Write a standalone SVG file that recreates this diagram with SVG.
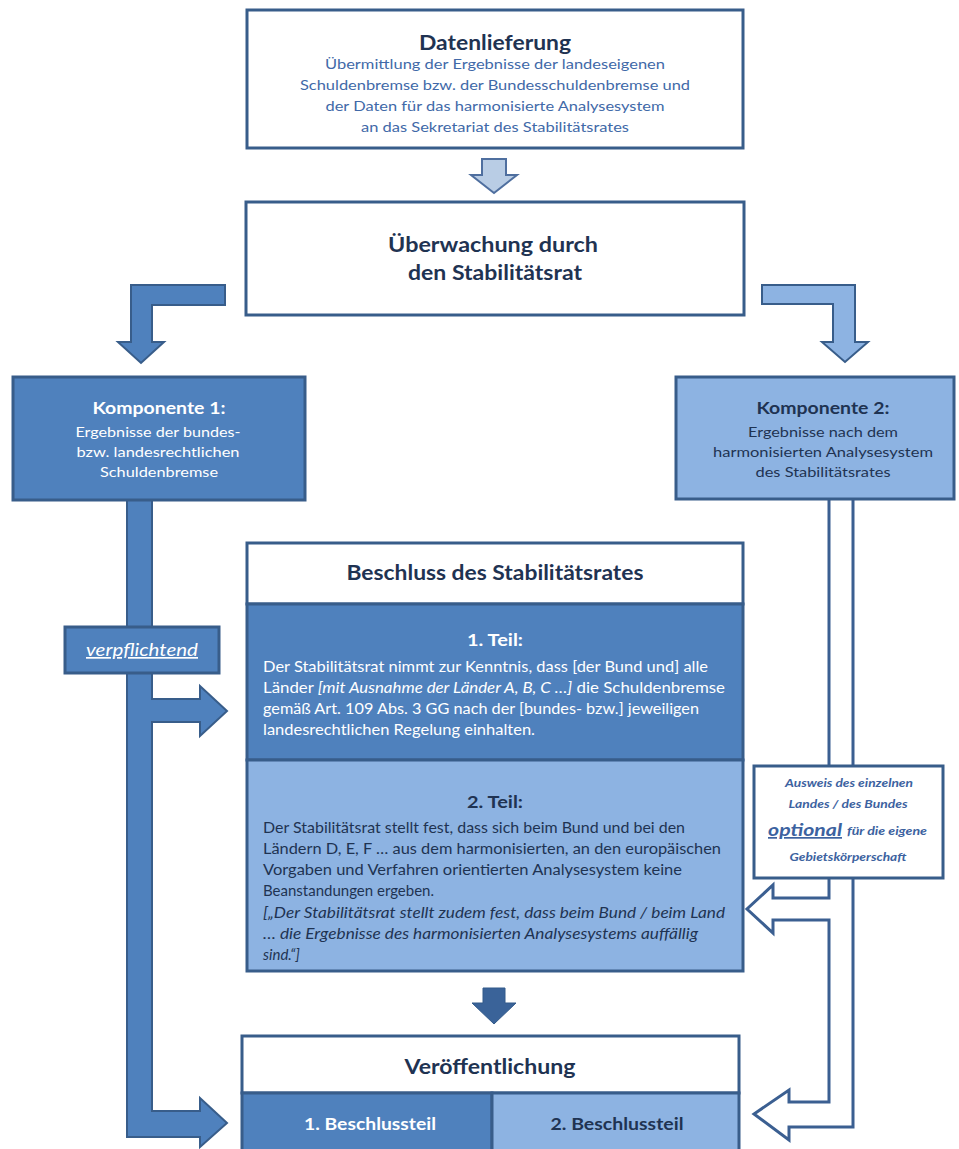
<svg xmlns="http://www.w3.org/2000/svg" width="959" height="1149" viewBox="0 0 959 1149">
<style>
text{font-family:Lato,"Open Sans","Liberation Sans",sans-serif}
.box{fill:#ffffff;stroke:#385d8a;stroke-width:3}
.dk{fill:#4f81bd;stroke:#385d8a;stroke-width:3}
.lt{fill:#8db3e2;stroke:#385d8a;stroke-width:3}
.ttl{font-size:20px;font-weight:bold;fill:#1f3352;text-anchor:middle}
.sub{font-size:14px;fill:#4169a8;text-anchor:middle}
.kt{font-size:17px;font-weight:bold;text-anchor:middle}
.kl{font-size:14px;text-anchor:middle}
.body{font-size:15px}
.w{fill:#ffffff}
.d{fill:#1f3352}
.aw{font-size:10.5px;font-weight:bold;font-style:italic;fill:#3c62a0;text-anchor:middle}
</style>
<g id="connectors">
<path d="M482,159 L506,159 L506,175 L517,175 L494,193 L471,175 L482,175 Z" fill="#b9cde5" stroke="#4f6f9f" stroke-width="2"/>
<path d="M225,285 L131,285 L131,342 L118,342 L141,363 L164,342 L152,342 L152,305 L225,305 Z" fill="#4f81bd" stroke="#385d8a" stroke-width="2"/>
<path d="M762,285 L855,285 L855,342 L868,342 L845,362 L822,342 L833,342 L833,304 L762,304 Z" fill="#8db3e2" stroke="#385d8a" stroke-width="2"/>
<path d="M127,500 L127,1137 L200,1137 L200,1147 L227,1123 L200,1098 L200,1111 L152,1111 L152,722 L200,722 L200,736 L227,711 L200,686 L200,699 L152,699 L152,500 Z" fill="#4f81bd" stroke="#385d8a" stroke-width="2"/>
<path d="M853,500 L853,1127 L789,1127 L789,1140 L754,1114 L789,1090 L789,1102 L829,1102 L829,920 L773,920 L773,933 L747,909 L773,885 L773,898 L829,898 L829,500" fill="#ffffff" stroke="#3b5f91" stroke-width="3"/>
<path d="M483,988 L505,988 L505,1003 L516,1003 L494,1024 L472,1003 L483,1003 Z" fill="#3a6399" stroke="#335a8a" stroke-width="1"/>
</g>
<g id="datenlieferung">
<rect class="box" x="247" y="10" width="496" height="138"/>
<text class="ttl" x="495" y="50" textLength="152" lengthAdjust="spacingAndGlyphs">Datenlieferung</text>
<text class="sub" x="495" y="69" textLength="340" lengthAdjust="spacingAndGlyphs">Übermittlung der Ergebnisse der landeseigenen</text>
<text class="sub" x="495" y="90" textLength="390" lengthAdjust="spacingAndGlyphs">Schuldenbremse bzw. der Bundesschuldenbremse und</text>
<text class="sub" x="495" y="111" textLength="339" lengthAdjust="spacingAndGlyphs">der Daten für das harmonisierte Analysesystem</text>
<text class="sub" x="495" y="132" textLength="268" lengthAdjust="spacingAndGlyphs">an das Sekretariat des Stabilitätsrates</text>
</g>
<g id="ueberwachung">
<rect class="box" x="246" y="202" width="498" height="113"/>
<text class="ttl" x="493" y="252" textLength="210" lengthAdjust="spacingAndGlyphs">Überwachung durch</text>
<text class="ttl" x="495" y="280" textLength="174" lengthAdjust="spacingAndGlyphs">den Stabilitätsrat</text>
</g>
<g id="komponente1">
<rect class="dk" x="13" y="377" width="292" height="123"/>
<text class="kt w" x="159" y="414" textLength="133" lengthAdjust="spacingAndGlyphs">Komponente 1:</text>
<text class="kl w" x="158" y="437" textLength="165" lengthAdjust="spacingAndGlyphs">Ergebnisse der bundes-</text>
<text class="kl w" x="158" y="457" textLength="163" lengthAdjust="spacingAndGlyphs">bzw. landesrechtlichen</text>
<text class="kl w" x="159" y="477" textLength="118" lengthAdjust="spacingAndGlyphs">Schuldenbremse</text>
</g>
<g id="komponente2">
<rect class="lt" x="676" y="377" width="278" height="122"/>
<text class="kt d" x="823" y="414" textLength="133" lengthAdjust="spacingAndGlyphs">Komponente 2:</text>
<text class="kl d" x="823" y="437" textLength="150" lengthAdjust="spacingAndGlyphs">Ergebnisse nach dem</text>
<text class="kl d" x="823" y="457" textLength="220" lengthAdjust="spacingAndGlyphs">harmonisierten Analysesystem</text>
<text class="kl d" x="823" y="477" textLength="135" lengthAdjust="spacingAndGlyphs">des Stabilitätsrates</text>
</g>
<g id="verpflichtend">
<rect class="dk" x="65" y="627" width="154" height="46" stroke-width="2"/>
<text x="142" y="656" font-size="17" font-style="italic" fill="#ffffff" text-anchor="middle" text-decoration="underline" textLength="112" lengthAdjust="spacingAndGlyphs">verpflichtend</text>
</g>
<g id="beschluss">
<rect class="box" x="247" y="543" width="496" height="61"/>
<rect class="dk" x="247" y="604" width="496" height="156"/>
<rect class="lt" x="247" y="760" width="496" height="211"/>
<text class="ttl" x="495" y="580" textLength="297" lengthAdjust="spacingAndGlyphs">Beschluss des Stabilitätsrates</text>
<text class="kt w" x="495" y="646" textLength="56" lengthAdjust="spacingAndGlyphs">1. Teil:</text>
<text class="body w" x="263" y="672" textLength="445" lengthAdjust="spacingAndGlyphs">Der Stabilitätsrat nimmt zur Kenntnis, dass [der Bund und] alle</text>
<text class="body w" x="263" y="693" textLength="462" lengthAdjust="spacingAndGlyphs">Länder <tspan font-style="italic">[mit Ausnahme der Länder A, B, C …]</tspan> die Schuldenbremse</text>
<text class="body w" x="263" y="714" textLength="436" lengthAdjust="spacingAndGlyphs">gemäß Art. 109 Abs. 3 GG nach der [bundes- bzw.] jeweiligen</text>
<text class="body w" x="263" y="735" textLength="272" lengthAdjust="spacingAndGlyphs">landesrechtlichen Regelung einhalten.</text>
<text class="kt d" x="495" y="808" textLength="56" lengthAdjust="spacingAndGlyphs">2. Teil:</text>
<text class="body d" x="263" y="833" textLength="422" lengthAdjust="spacingAndGlyphs">Der Stabilitätsrat stellt fest, dass sich beim Bund und bei den</text>
<text class="body d" x="263" y="854" textLength="458" lengthAdjust="spacingAndGlyphs">Ländern D, E, F … aus dem harmonisierten, an den europäischen</text>
<text class="body d" x="263" y="875" textLength="419" lengthAdjust="spacingAndGlyphs">Vorgaben und Verfahren orientierten Analysesystem keine</text>
<text class="body d" x="263" y="896">Beanstandungen ergeben.</text>
<text class="body d" x="263" y="918" font-style="italic" textLength="462" lengthAdjust="spacingAndGlyphs">[„Der Stabilitätsrat stellt zudem fest, dass beim Bund / beim Land</text>
<text class="body d" x="263" y="939" font-style="italic" textLength="435" lengthAdjust="spacingAndGlyphs">… die Ergebnisse des harmonisierten Analysesystems auffällig</text>
<text class="body d" x="263" y="960" font-style="italic">sind.“]</text>
</g>
<g id="ausweis">
<rect class="box" x="754" y="766" width="189" height="112"/>
<text class="aw" x="849" y="787" textLength="128" lengthAdjust="spacingAndGlyphs">Ausweis des einzelnen</text>
<text class="aw" x="848" y="808" textLength="119" lengthAdjust="spacingAndGlyphs">Landes / des Bundes</text>
<text x="805" y="836" font-size="17" font-weight="bold" font-style="italic" fill="#3c62a0" text-anchor="middle" text-decoration="underline" textLength="74" lengthAdjust="spacingAndGlyphs">optional</text>
<text x="847" y="835" font-size="10.5" font-weight="bold" font-style="italic" fill="#3c62a0" textLength="80" lengthAdjust="spacingAndGlyphs">für die eigene</text>
<text class="aw" x="848" y="861" textLength="117" lengthAdjust="spacingAndGlyphs">Gebietskörperschaft</text>
</g>
<g id="veroeffentlichung">
<rect class="box" x="242" y="1036" width="497" height="57"/>
<rect class="dk" x="242" y="1093" width="250" height="60"/>
<rect class="lt" x="492" y="1093" width="247" height="60"/>
<text class="ttl" x="490" y="1074" textLength="171" lengthAdjust="spacingAndGlyphs">Veröffentlichung</text>
<text class="kt w" x="370" y="1130" textLength="132" lengthAdjust="spacingAndGlyphs">1. Beschlussteil</text>
<text class="kt d" x="617" y="1130" textLength="133" lengthAdjust="spacingAndGlyphs">2. Beschlussteil</text>
</g>
</svg>
